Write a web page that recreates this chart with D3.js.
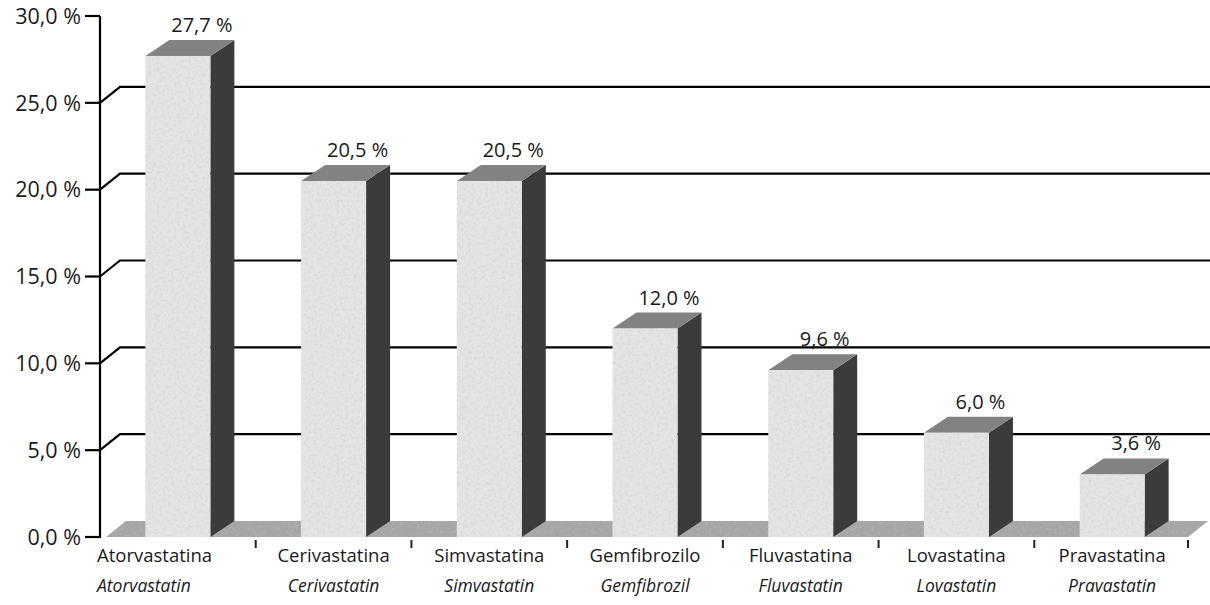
<!DOCTYPE html>
<html>
<head>
<meta charset="utf-8">
<script src="https://cdn.jsdelivr.net/npm/d3@7"></script>
<style>
  html, body { margin: 0; padding: 0; background: #fff; }
  svg { display: block; font-family: "Open Sans", Lato, sans-serif; }
</style>
</head>
<body>
<svg id="chart" width="1210" height="605"></svg>
<script>
// Prescription share by drug
const categories = ["Atorvastatina", "Cerivastatina", "Simvastatina", "Gemfibrozilo", "Fluvastatina", "Lovastatina", "Pravastatina"];
const subtitles  = ["Atorvastatin", "Cerivastatin", "Simvastatin", "Gemfibrozil", "Fluvastatin", "Lovastatin", "Pravastatin"];
const values     = [27.7, 20.5, 20.5, 12.0, 9.6, 6.0, 3.6];
const yTicks     = [0, 5, 10, 15, 20, 25, 30];

const svg = d3.select("#chart");

// Light print grain for the faces
const defs = svg.append("defs");
const grain = defs.append("filter").attr("id", "grain")
  .attr("x", 0).attr("y", 0).attr("width", 1).attr("height", 1);
grain.append("feTurbulence").attr("type", "fractalNoise").attr("baseFrequency", 0.35)
  .attr("numOctaves", 3).attr("seed", 7).attr("result", "noise");
grain.append("feColorMatrix").attr("in", "noise").attr("type", "matrix")
  .attr("values", "0 0 0 0 0.55  0 0 0 0 0.55  0 0 0 0 0.55  0 0 0 -0.9 0.48").attr("result", "dots");
grain.append("feComposite").attr("in", "dots").attr("in2", "SourceGraphic").attr("operator", "in").attr("result", "dotsIn");
grain.append("feMerge").selectAll("feMergeNode").data(["SourceGraphic", "dotsIn"]).enter()
  .append("feMergeNode").attr("in", d => d);

const y = d3.scaleLinear().domain([0, 30]).range([537, 16]);
const x = d3.scaleBand().domain(categories).range([100, 1190]).padding(0);

const fmt = v => d3.format(".1f")(v).replace(".", ",") + " %";

// 3D offsets: back wall depth and bar depth
const wallDx = 20, wallDy = -16;
const barDx = 24, barDy = -16;
const barW = 65;
const axisX = 100;

// Back-wall gridlines with their diagonal connectors to the axis
const grid = svg.append("g");
yTicks.filter(v => v > 0 && v < 30).forEach(v => {
  const yy = y(v);
  grid.append("path")
    .attr("d", `M${axisX},${yy} L${axisX + wallDx},${yy + wallDy} L1210,${yy + wallDy}`)
    .attr("fill", "none").attr("stroke", "#000").attr("stroke-width", 2.2);
});

// Floor
const y0 = y(0);
svg.append("path")
  .attr("d", `M106,${y0} L1188,${y0} L${1188 + wallDx},${y0 + wallDy} L${106 + wallDx},${y0 + wallDy} Z`)
  .attr("fill", "#a6a6a6").attr("filter", "url(#grain)");

// Vertical axis with left ticks
svg.append("line")
  .attr("x1", axisX).attr("x2", axisX).attr("y1", y(30)).attr("y2", y0 + 1)
  .attr("stroke", "#000").attr("stroke-width", 2.2);

const yAxisG = svg.append("g");
yTicks.forEach(v => {
  yAxisG.append("line")
    .attr("x1", axisX - 15).attr("x2", axisX).attr("y1", y(v)).attr("y2", y(v))
    .attr("stroke", "#000").attr("stroke-width", 2.2);
  yAxisG.append("text")
    .attr("x", 81).attr("y", y(v)).attr("dy", "0.36em")
    .attr("text-anchor", "end").attr("font-size", 21.5).attr("fill", "#1a1a1a")
    .text(fmt(v));
});

// Category boundary ticks under the floor
categories.forEach((c, i) => {
  if (i === 0) return;
  const bx = x(c);
  svg.append("line").attr("x1", bx).attr("x2", bx).attr("y1", y0 + 3).attr("y2", y0 + 11)
    .attr("stroke", "#222").attr("stroke-width", 2);
});
svg.append("line").attr("x1", 1188).attr("x2", 1188).attr("y1", y0 + 3).attr("y2", y0 + 11)
  .attr("stroke", "#222").attr("stroke-width", 2);

// Bars
const bars = svg.append("g");
categories.forEach((c, i) => {
  const v = values[i];
  const cx = x(c) + x.bandwidth() / 2;
  const x1 = cx - barW / 2, x2 = cx + barW / 2;
  const top = y(v), bot = y0;
  const g = bars.append("g");
  // side face
  g.append("path")
    .attr("d", `M${x2},${top} L${x2 + barDx},${top + barDy} L${x2 + barDx},${bot + barDy} L${x2},${bot} Z`)
    .attr("fill", "#3b3b3b");
  // top face
  g.append("path")
    .attr("d", `M${x1},${top} L${x2},${top} L${x2 + barDx},${top + barDy} L${x1 + barDx},${top + barDy} Z`)
    .attr("fill", "#828282");
  // front face
  g.append("rect")
    .attr("x", x1).attr("y", top).attr("width", barW).attr("height", bot - top)
    .attr("fill", "#e4e4e4").attr("filter", "url(#grain)");
  // value label over the back of the top face
  g.append("text")
    .attr("x", cx + barDx).attr("y", top + barDy - 8)
    .attr("text-anchor", "middle").attr("font-size", 20).attr("fill", "#1a1a1a")
    .text(fmt(v));
});

// Category labels (Spanish, then English in italics)
const labels = svg.append("g");
categories.forEach((c, i) => {
  const cx = x(c) + x.bandwidth() / 2;
  const first = i === 0;
  const lx = first ? axisX - 3 : cx;
  const anchor = first ? "start" : "middle";
  labels.append("text")
    .attr("x", lx).attr("y", 562).attr("text-anchor", anchor)
    .attr("font-size", 18.5).attr("fill", "#1a1a1a")
    .text(c);
  labels.append("text")
    .attr("x", lx).attr("y", 592).attr("text-anchor", anchor)
    .attr("font-size", 17.5).attr("font-style", "italic").attr("fill", "#1a1a1a")
    .text(subtitles[i]);
});
</script>
</body>
</html>
